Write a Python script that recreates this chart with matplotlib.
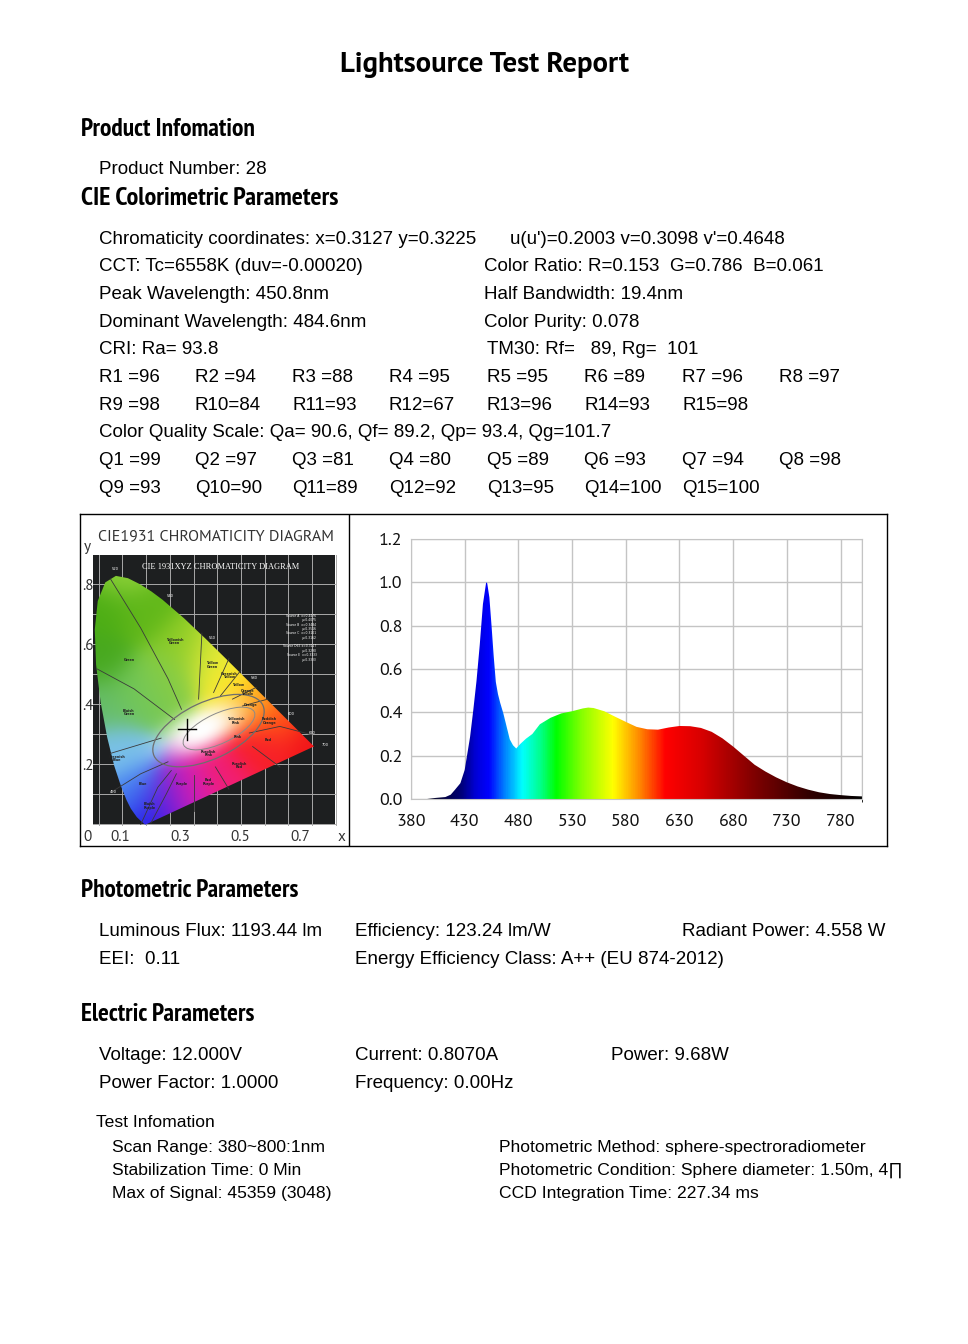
import numpy as np
import matplotlib
matplotlib.use("Agg")
import matplotlib.pyplot as plt
from matplotlib import font_manager
from matplotlib.colors import LinearSegmentedColormap
from matplotlib.patches import Rectangle, Ellipse, Polygon

W, H = 968, 1344

# ---- report values ----
r_values = [96, 94, 88, 95, 95, 89, 96, 97, 98, 84, 93, 67, 96, 93, 98]
q_values = [99, 97, 81, 80, 89, 93, 94, 98, 93, 90, 89, 92, 95, 100, 100]
col_x = [99, 195, 292, 389, 487, 584, 682, 779]

# ---- spectrum ----
wavelength = [380, 395, 403, 412, 417, 421, 426, 430, 432, 435,
              438, 441, 444, 447, 450, 451, 453, 455, 457, 459,
              461, 463, 466, 469, 472, 475, 478, 482, 487, 493,
              500, 510, 520, 530, 540, 545, 550, 560, 570, 580,
              590, 600, 610, 620, 630, 640, 650, 660, 670, 680,
              690, 700, 710, 720, 730, 740, 750, 760, 770, 780,
              790, 800]
intensity = [0.0, 0.0, 0.005, 0.009, 0.02, 0.043, 0.073, 0.134, 0.195, 0.286,
             0.41, 0.545, 0.71, 0.9, 1.0, 0.995, 0.93, 0.80, 0.66, 0.54,
             0.484, 0.445, 0.395, 0.335, 0.275, 0.248, 0.233, 0.255, 0.278, 0.30,
             0.345, 0.375, 0.395, 0.405, 0.418, 0.422, 0.42, 0.405, 0.38, 0.356,
             0.333, 0.322, 0.32, 0.33, 0.337, 0.336, 0.328, 0.31, 0.28, 0.242,
             0.20, 0.158, 0.127, 0.10, 0.077, 0.058, 0.043, 0.031, 0.023, 0.018,
             0.014, 0.012]
x_ticks = [380, 430, 480, 530, 580, 630, 680, 730, 780]
y_ticks = [0.0, 0.2, 0.4, 0.6, 0.8, 1.0, 1.2]

# ---- CIE 1931 spectral locus (x, y) ----
locus_x = [0.1741, 0.1733, 0.1714, 0.1689, 0.1644, 0.1566, 0.1440, 0.1241, 0.1096,
           0.0913, 0.0687, 0.0454, 0.0235, 0.0082, 0.0039, 0.0139, 0.0389, 0.0743,
           0.1142, 0.1547, 0.1929, 0.2296, 0.3016, 0.3731, 0.4441, 0.5125, 0.5752,
           0.6270, 0.6658, 0.6915, 0.7079, 0.7190, 0.7260, 0.7300, 0.7334, 0.7347]
locus_y = [0.0050, 0.0048, 0.0051, 0.0069, 0.0109, 0.0177, 0.0297, 0.0578, 0.0868,
           0.1327, 0.2007, 0.2950, 0.4127, 0.5384, 0.6548, 0.7502, 0.8120, 0.8338,
           0.8262, 0.8059, 0.7816, 0.7543, 0.6923, 0.6245, 0.5547, 0.4866, 0.4242,
           0.3725, 0.3340, 0.3083, 0.2920, 0.2809, 0.2740, 0.2700, 0.2666, 0.2653]
white_x, white_y = 0.3127, 0.3225

# region boundaries and labels of the printed diagram (image coords)
region_lines = [
    [(0.068, 0.824), (0.169, 0.660), (0.260, 0.491), (0.305, 0.389)],
    [(0.023, 0.524), (0.147, 0.457), (0.282, 0.355)],
    [(0.068, 0.242), (0.237, 0.293)],
    [(0.079, 0.118), (0.169, 0.174), (0.260, 0.214)],
    [(0.169, 0.005), (0.226, 0.129), (0.271, 0.185)],
    [(0.203, 0.010), (0.254, 0.106), (0.288, 0.174)],
    [(0.345, 0.169), (0.345, 0.050)],
    [(0.418, 0.197), (0.463, 0.123)],
    [(0.373, 0.643), (0.362, 0.423)],
    [(0.463, 0.558), (0.412, 0.445)],
    [(0.503, 0.519), (0.435, 0.434)],
    [(0.554, 0.462), (0.475, 0.423)],
    [(0.593, 0.423), (0.508, 0.400)],
    [(0.740, 0.304), (0.633, 0.332), (0.531, 0.310)],
    [(0.633, 0.197), (0.542, 0.265)],
]
region_names = ["Green", "Yellowish\nGreen", "Yellow\nGreen", "Greenish\nYellow", "Yellow",
                "Orange\nYellow", "Orange", "Reddish\nOrange", "Red", "Purplish\nRed",
                "Red\nPurple", "Purple", "Bluish\nPurple", "Blue", "Greenish\nBlue",
                "Bluish\nGreen", "Yellowish\nPink", "Pink", "Purplish\nPink"]
region_pos = [(0.130, 0.555), (0.282, 0.615), (0.407, 0.536), (0.463, 0.502), (0.492, 0.470),
              (0.525, 0.445), (0.537, 0.402), (0.599, 0.349), (0.593, 0.287), (0.497, 0.202),
              (0.395, 0.146), (0.305, 0.140), (0.198, 0.067), (0.175, 0.140), (0.090, 0.225),
              (0.130, 0.378), (0.486, 0.349), (0.492, 0.298), (0.395, 0.242)]
nm_names = ["520", "540", "560", "580", "600", "620", "700", "490"]
nm_pos = [(0.085, 0.856), (0.266, 0.767), (0.407, 0.628), (0.548, 0.493),
          (0.672, 0.374), (0.740, 0.310), (0.785, 0.270), (0.079, 0.112)]
source_notes = ["Source A  x=0.4476", "y=0.4075", "Source B  x=0.3484", "y=0.3516",
                "Source C  x=0.3101", "y=0.3162", "", "Source D65 x=0.3127", "y=0.3290",
                "Source E  x=0.3333", "y=0.3333"]

# colour anchors of the printed diagram
paint_xy = [(0.10, 0.84), (0.05, 0.72), (0.18, 0.70), (0.30, 0.60), (0.40, 0.56),
            (0.48, 0.50), (0.56, 0.43), (0.63, 0.36), (0.74, 0.27), (0.58, 0.24),
            (0.46, 0.14), (0.35, 0.09), (0.26, 0.06), (0.19, 0.02), (0.13, 0.10),
            (0.07, 0.24), (0.04, 0.40), (0.04, 0.55), (0.15, 0.45), (0.25, 0.50)]
paint_rgb = [(0.55, 0.82, 0.22), (0.30, 0.68, 0.08), (0.38, 0.72, 0.10), (0.55, 0.80, 0.15),
             (0.86, 0.91, 0.22), (1.00, 0.93, 0.18), (1.00, 0.66, 0.08), (1.00, 0.30, 0.10),
             (0.95, 0.08, 0.10), (0.97, 0.12, 0.16), (0.95, 0.12, 0.45), (0.85, 0.12, 0.70),
             (0.48, 0.12, 0.85), (0.08, 0.10, 0.92), (0.28, 0.52, 0.95), (0.48, 0.76, 0.92),
             (0.40, 0.74, 0.42), (0.28, 0.66, 0.12), (0.45, 0.78, 0.35), (0.52, 0.80, 0.28)]

names = {f.name for f in font_manager.fontManager.ttflist}
BODY = "Liberation Sans" if "Liberation Sans" in names else "DejaVu Sans"
TITLE = "PT Sans" if "PT Sans" in names else BODY
HEAD = BODY
for cand in ["PT Sans Narrow", "Roboto Condensed", "Fira Sans Condensed", "Archivo Narrow",
             "Liberation Sans Narrow", "Encode Sans Condensed"]:
    if cand in names:
        HEAD = cand
        break
SIZE = 13.5

fig = plt.figure(figsize=(W / 100, H / 100), dpi=100)
renderer = fig.canvas.get_renderer()


def put(x, y, s, size=None, family=None, **kw):
    return fig.text(x / W, 1 - y / H, s, fontsize=size or SIZE,
                    family=[family or BODY, "DejaVu Sans"], va="baseline", **kw)


def fit(t, width):
    bb = t.get_window_extent(renderer)
    t.set_fontsize(t.get_fontsize() * width / bb.width)


def head(x, y, s, width):
    fit(put(x, y, s, size=15, family=HEAD, weight="bold"), width)


# ---- texts ----
fit(put(484, 72, "Lightsource Test Report", size=20, family=TITLE, weight="bold", ha="center"), 288)
head(81, 136, "Product Infomation", 174)
put(99, 174, "Product Number: 28")
head(81, 205, "CIE Colorimetric Parameters", 258)

put(99, 244, "Chromaticity coordinates: x=%.4f y=%.4f" % (white_x, white_y))
put(510, 244, "u(u')=0.2003 v=0.3098 v'=0.4648")
put(99, 271, "CCT: Tc=6558K (duv=-0.00020)")
put(484, 271, "Color Ratio: R=0.153  G=0.786  B=0.061")
put(99, 299, "Peak Wavelength: 450.8nm")
put(484, 299, "Half Bandwidth: 19.4nm")
put(99, 327, "Dominant Wavelength: 484.6nm")
put(484, 327, "Color Purity: 0.078")
put(99, 354, "CRI: Ra= 93.8")
put(487, 354, "TM30: Rf=   89, Rg=  101")

for i, v in enumerate(r_values):
    put(col_x[i % 8], 382 if i < 8 else 410, "R%-2d=%d" % (i + 1, v))
put(99, 437, "Color Quality Scale: Qa= 90.6, Qf= 89.2, Qp= 93.4, Qg=101.7")
for i, v in enumerate(q_values):
    put(col_x[i % 8], 465 if i < 8 else 493, "Q%-2d=%d" % (i + 1, v))

head(81, 897, "Photometric Parameters", 218)
put(99, 936, "Luminous Flux: 1193.44 lm")
put(355, 936, "Efficiency: 123.24 lm/W")
put(886, 936, "Radiant Power: 4.558 W", ha="right")
put(99, 964, "EEI:  0.11")
put(355, 964, "Energy Efficiency Class: A++ (EU 874-2012)")

head(81, 1021, "Electric Parameters", 175)
put(99, 1060, "Voltage: 12.000V")
put(355, 1060, "Current: 0.8070A")
put(611, 1060, "Power: 9.68W")
put(99, 1088, "Power Factor: 1.0000")
put(355, 1088, "Frequency: 0.00Hz")

small = 12.6
put(96, 1127, "Test Infomation", size=small)
put(112, 1152, "Scan Range: 380~800:1nm", size=small)
put(112, 1175, "Stabilization Time: 0 Min", size=small)
put(112, 1198, "Max of Signal: 45359 (3048)", size=small)
put(499, 1152, "Photometric Method: sphere-spectroradiometer", size=small)
put(499, 1175, "Photometric Condition: Sphere diameter: 1.50m, 4\u220f", size=small)
put(499, 1198, "CCD Integration Time: 227.34 ms", size=small)

# ---- frame around the two graphs ----
box = fig.add_axes([80 / W, 1 - 846 / H, 807 / W, 332 / H])
box.set_xlim(0, 807)
box.set_ylim(0, 332)
box.set_xticks([])
box.set_yticks([])
for s in box.spines.values():
    s.set_linewidth(1.0)
    s.set_color("black")
box.axvline(269, color="black", lw=1.0)

# ---- CIE chromaticity diagram ----
ax1 = fig.add_axes([81 / W, 1 - 845 / H, 267 / W, 330 / H])
ax1.set_xlim(-0.0300, 0.8600)
ax1.set_ylim(-0.0633, 1.0367)
ax1.axis("off")

x_off = 0.012
ax1.add_patch(Rectangle((0.01, 0.003), 0.807, 0.900, facecolor="#1d1f20", edgecolor="none", zorder=1))
for gx in np.arange(0.029, 0.82, 0.079):
    ax1.plot([gx, gx], [0.003, 0.903], color="#a9a9a9", lw=0.7, zorder=1.5)
for gy in np.arange(0.0, 0.85, 0.1):
    ax1.plot([0.01, 0.817], [gy + 0.008, gy + 0.008], color="#a9a9a9", lw=0.7, zorder=1.5)

gxs = np.linspace(0.0, 0.82, 330)
gys = np.linspace(0.0, 0.90, 360)
GX, GY = np.meshgrid(gxs, gys)
pxy = np.array(paint_xy)
prgb = np.array(paint_rgb)
d2 = (GX[..., None] - pxy[:, 0]) ** 2 + (GY[..., None] - pxy[:, 1]) ** 2
wk = np.exp(-d2 / (2 * 0.06 ** 2)) + 1e-12
rgb = (wk @ prgb) / wk.sum(axis=-1, keepdims=True)
ang = np.deg2rad(25)
u = (GX - 0.37) * np.cos(ang) + (GY - 0.32) * np.sin(ang)
v = -(GX - 0.37) * np.sin(ang) + (GY - 0.32) * np.cos(ang)
wgt = np.exp(-((u / 0.145) ** 2 + (v / 0.07) ** 2) ** 1.3)[..., None]
rgb = np.clip(rgb * (1 - wgt) + wgt, 0, 1)
img = ax1.imshow(rgb, extent=[0.0, 0.82, 0.0, 0.90], origin="lower",
                 interpolation="bilinear", zorder=2, aspect="auto")
horseshoe = Polygon(np.column_stack([np.array(locus_x) + x_off, locus_y]), closed=True,
                    transform=ax1.transData)
img.set_clip_path(horseshoe)

for line in region_lines:
    xs, ys = zip(*line)
    ax1.plot(xs, ys, color="#3a3a3a", lw=0.6, zorder=3)
ax1.add_patch(Ellipse((0.395, 0.318), 0.40, 0.19, angle=25, facecolor="none",
                      edgecolor="#6e6e6e", lw=0.9, zorder=3))
ax1.add_patch(Ellipse((0.43, 0.325), 0.26, 0.10, angle=25, facecolor="none",
                      edgecolor="#8a8a8a", lw=0.7, zorder=3))
for name, (px, py) in zip(region_names, region_pos):
    ax1.text(px, py, name, fontsize=2.4, ha="center", va="center", color="#222222",
             weight="bold", linespacing=0.9, zorder=4)
for name, (px, py) in zip(nm_names, nm_pos):
    ax1.text(px, py, name, fontsize=2.6, ha="center", va="center", color="white", zorder=4)
for k, note in enumerate(source_notes):
    ax1.text(0.755, 0.70 - k * 0.0145, note, fontsize=2.2, ha="right", va="center",
             color="white", zorder=4)
ax1.text(0.435, 0.863, "CIE 1931XYZ CHROMATICITY DIAGRAM", fontsize=6, color="white",
         family="Liberation Serif", ha="center", va="center", zorder=4)
ax1.plot([white_x + x_off - 0.03, white_x + x_off + 0.03], [white_y, white_y], color="black", lw=1, zorder=5)
ax1.plot([white_x + x_off, white_x + x_off], [white_y - 0.035, white_y + 0.035], color="black", lw=1, zorder=5)

lab = dict(fontsize=11, color="#333333", family=[TITLE, "DejaVu Sans"], va="center")
fit(ax1.text(0.025, 0.967, "CIE1931 CHROMATICITY DIAGRAM", ha="left", **lab), 235)
ax1.text(-0.01, 0.93, "y", ha="center", **lab)
for t in [0.8, 0.6, 0.4, 0.2]:
    ax1.text(-0.026, t, ("%.1f" % t)[1:], ha="left", **lab)
for t in [0.0, 0.1, 0.3, 0.5, 0.7]:
    ax1.text(t - 0.01 if t == 0 else t, -0.037, "0" if t == 0 else "%.1f" % t, ha="center", **lab)
ax1.text(0.837, -0.037, "x", ha="center", **lab)

# ---- spectrum ----
ax2 = fig.add_axes([411 / W, 1 - 799 / H, 451 / W, 260 / H])
ax2.set_xlim(380, 800)
ax2.set_ylim(0, 1.2)
hue_nm = [380, 405, 425, 440, 452, 465, 483, 500, 515, 540, 568, 592, 617, 650, 700, 750, 800]
hue_rgb = [(0, 0, 0), (0, 0, 0.2), (0, 0, 0.45), (0, 0, 0.85), (0, 0, 1), (0, 0.45, 1),
           (0, 1, 1), (0, 1, 0.55), (0, 1, 0), (0.55, 1, 0), (1, 1, 0), (1, 0.55, 0),
           (1, 0, 0), (0.85, 0, 0), (0.5, 0, 0), (0.2, 0, 0), (0, 0, 0)]
spec_cmap = LinearSegmentedColormap.from_list(
    "spec", [((n - 380) / 420, c) for n, c in zip(hue_nm, hue_rgb)])
grad = np.linspace(0, 1, 840)[None, :]
spec_img = ax2.imshow(grad, extent=[380, 800, 0, 1.2], aspect="auto", cmap=spec_cmap,
                      origin="lower", zorder=2)
area = ax2.fill_between(wavelength, intensity, 0, color="none", lw=0)
spec_img.set_clip_path(area.get_paths()[0], transform=ax2.transData)
ax2.set_xticks(x_ticks)
ax2.set_yticks(y_ticks)
ax2.set_yticklabels(["%.1f" % t for t in y_ticks])
ax2.set_xticks([800], minor=True)
ax2.grid(True, which="both", color="#c4c4c4", lw=1.0, zorder=0)
ax2.set_axisbelow(True)
for s in ax2.spines.values():
    s.set_color("#c4c4c4")
ax2.tick_params(length=0, labelsize=13, colors="#111111")
ax2.tick_params(axis="y", pad=6)
ax2.tick_params(axis="x", pad=11)
for t in ax2.get_xticklabels() + ax2.get_yticklabels():
    t.set_family([TITLE, "DejaVu Sans"])

fig.savefig("out.png", dpi=100, facecolor="white")
